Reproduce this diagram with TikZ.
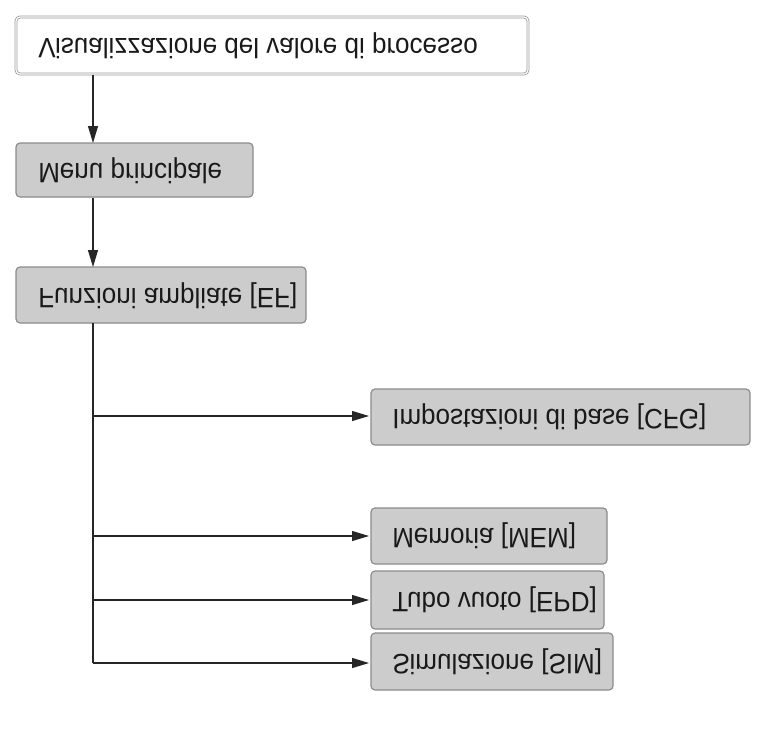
\documentclass[tikz,border=0pt]{standalone}
\usepackage{fontspec}
\setmainfont{Liberation Sans}
\usetikzlibrary{arrows.meta}
\begin{document}
\begin{tikzpicture}[x=1pt,y=-1pt,
  box/.style={draw=black!45,line width=1.2pt,rounded corners=4pt,fill=black!20,inner sep=0pt},
  arr/.style={-{Triangle[length=17pt,width=10pt]},line width=1.1pt,black!85},
  lbl/.style={anchor=west,font=\fontsize{28}{32}\selectfont,text=black!90,xscale=0.93,yscale=-1}]
\useasboundingbox (0,0) rectangle (759,731);
\draw[box,fill=white,double=white,double distance=1.2pt,draw=black!40,line width=0.8pt] (16,17) rectangle (528,74);
\node[lbl] (t0) at (35,46) {Visualizzazione del valore di processo};
\draw[box] (16,143) rectangle (253,197); \node[lbl] (t1) at (35,171) {Menu principale};
\draw[box] (16,267) rectangle (306,323); \node[lbl] (t2) at (35,296) {Funzioni ampliate [EF]};
\draw[box] (371,389) rectangle (750,445); \node[lbl] (c1) at (389,417) {Impostazioni di base [CFG]};
\draw[box] (371,508) rectangle (607,564); \node[lbl] (c2) at (389,536) {Memoria [MEM]};
\draw[box] (371,571) rectangle (604,629); \node[lbl] (c3) at (389,600) {Tubo vuoto [EPD]};
\draw[box] (371,633) rectangle (613,690); \node[lbl] (c4) at (389,662) {Simulazione [SIM]};
\coordinate (a0) at (93,75); \coordinate (a1) at (93,143);
\coordinate (b0) at (93,198); \coordinate (b1) at (93,267);
\draw[arr] (a0) -- (a1);
\draw[arr] (b0) -- (b1);
\draw[line width=1.1pt,black!85] (93,323) -- (93,663);
\foreach \y in {416,536,600,663} \draw[arr] (93,\y) -- (369,\y);
\end{tikzpicture}
\end{document}
